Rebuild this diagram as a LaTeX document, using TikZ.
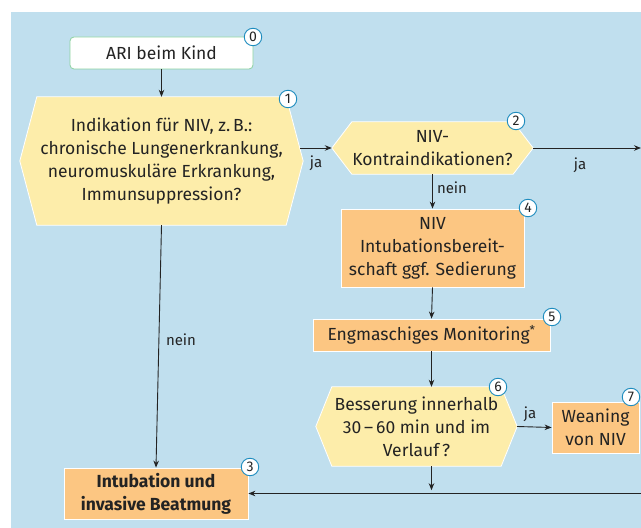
\documentclass[tikz,border=0pt]{standalone}
\usepackage{fontspec}
\setmainfont{Fira Sans}
\usetikzlibrary{arrows.meta,calc}
\definecolor{bgblue}{RGB}{192,223,238}
\definecolor{hexy}{RGB}{253,237,170}
\definecolor{boxo}{RGB}{252,198,130}
\definecolor{badgeb}{RGB}{30,140,190}
\definecolor{txt}{RGB}{35,35,35}
\definecolor{greenb}{RGB}{140,210,160}
\pgfdeclarelayer{back}\pgfdeclarelayer{mid}
\pgfsetlayers{back,mid,main}
\newcommand\hexshape[2]{\begin{pgfonlayer}{mid}\path[fill=hexy,draw=white,line width=0.8pt] (#1.west) -- ([xshift=#2]#1.north west) -- ([xshift=-#2]#1.north east) -- (#1.east) -- ([xshift=-#2]#1.south east) -- ([xshift=#2]#1.south west) -- cycle;\end{pgfonlayer}}
\begin{document}
\begin{tikzpicture}[x=1pt,y=1pt,
  every node/.style={text=txt, font=\fontsize{17.5}{23}\selectfont},
  box/.style={fill=boxo, draw=white, line width=0.8pt, align=center, inner sep=0},
  hexnode/.style={align=center, inner sep=0},
  badge/.style={circle, fill=white, draw=badgeb, line width=0.9pt, inner sep=0, minimum size=17.5pt, font=\fontsize{14}{14}\selectfont},
  arr/.style={draw=txt, line width=0.9pt, -{Stealth[length=7pt,width=5.5pt]}},
  conn/.style={draw=txt, line width=0.9pt},
  lbl/.style={font=\fontsize{15}{15}\selectfont, inner sep=0}
]
\useasboundingbox (0,0) rectangle (641,528);
\begin{pgfonlayer}{back}
\fill[bgblue] (11,0) rectangle (641,516);
\end{pgfonlayer}

% nodes
\node[fill=white, draw=greenb, line width=0.8pt, rounded corners=4pt, minimum width=183pt, minimum height=32pt, inner sep=0] (n0) at (161.5,475) {ARI beim Kind};
\node[hexnode, minimum width=283pt, minimum height=128pt] (h1) at (161.5,367) {Indikation für NIV, z.\,B.:\\chronische Lungenerkrankung,\\neuromuskuläre Erkrankung,\\Immunsuppression?};
\hexshape{h1}{17pt}
\node[hexnode, minimum width=201pt, minimum height=52pt] (h2) at (432.5,380) {NIV-\\Kontraindikationen?};
\hexshape{h2}{20pt}
\node[box, minimum width=183pt, minimum height=78pt] (n4) at (432.5,280) {NIV\\Intubationsbereit-\\schaft ggf. Sedierung};
\node[box, minimum width=237pt, minimum height=32pt] (n5) at (431.5,193) {Engmaschiges Monitoring\textsuperscript{*}};
\node[hexnode, minimum width=201pt, minimum height=79pt] (h6) at (416.5,101.5) {Besserung innerhalb\\30\,–\,60 min und im\\Verlauf\,?};
\hexshape{h6}{16pt}
\node[box, minimum width=87pt, minimum height=51pt] (n7) at (595.5,100.5) {Weaning\\von NIV};
\node[box, minimum width=184pt, minimum height=51pt, font=\fontsize{17.5}{23}\selectfont\bfseries] (n3) at (156,34.5) {Intubation und\\invasive Beatmung};

% badges
\node[badge] (b0) at (253,491) {0};
\node[badge] (b1) at (288,429) {1};
\node[badge] (b2) at (516,407) {2};
\node[badge] (b4) at (528,320) {4};
\node[badge] (b5) at (552,211) {5};
\node[badge] (b6) at (498,141) {6};
\node[badge] (b7) at (631,131) {7};
\node[badge] (b3) at (250,61) {3};

% free ends
\coordinate (outja) at (641,380);
\coordinate (inback) at (641,34.5);

% connectors
\draw[arr] (n0) -- (h1);
\draw[arr] ([xshift=-3pt]h1.east |- h2.west) -- (h2.west);
\draw[arr] (h2.east) -- (outja);
\draw[arr] (h2.south) -- (n4.north);
\draw[arr] (n4.south) -- (n5.north);
\draw[arr] (n5.south) -- (n5.south |- h6.north);
\draw[arr] (h6.east) -- (n7.west);
\draw[arr] (h6.south -| n5.south) -- ($(h6.south -| n5.south)!0.88!(inback -| n5.south)$);
\draw[arr] (h1.south) -- (n3.north);
\draw[arr] (inback) -- (n3.east);

% labels
\node[lbl] (l1) at (316,365) {ja};
\node[lbl] (l2) at (580,363) {ja};
\node[lbl] (l3) at (452,340) {nein};
\node[lbl] (l4) at (181,188) {nein};
\node[lbl] (l5) at (530,114) {ja};
\end{tikzpicture}
\end{document}
